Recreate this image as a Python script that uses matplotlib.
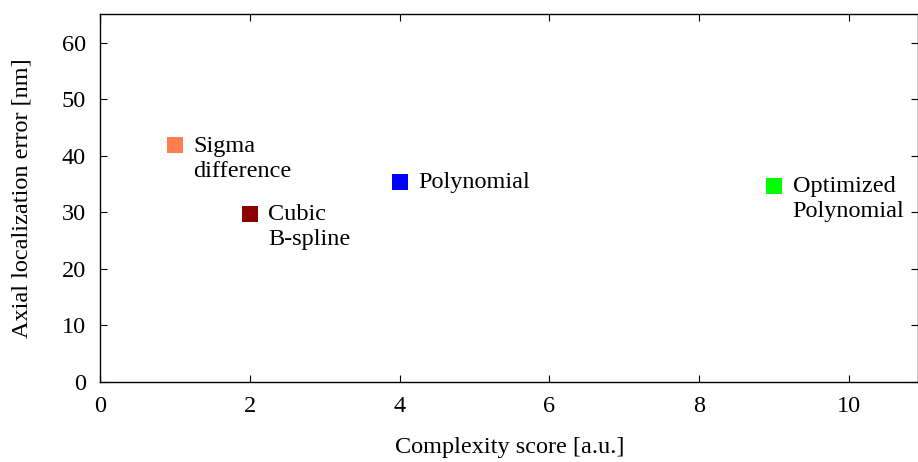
import matplotlib.pyplot as plt

# Datos
methods = ["Sigma\ndifference", "Cubic\nB-spline", "Polynomial", "Optimized\nPolynomial"]
complexity = [1, 2, 4, 9]
axial_error = [41.8, 29.7, 35.4, 34.7]
colors = ["#ff7f50", "#8b0000", "#0000ff", "#00ff00"]

plt.rcParams["font.family"] = "Liberation Serif"
plt.rcParams["font.size"] = 17.5

fig = plt.figure(figsize=(9.18, 4.62), dpi=100)
ax = fig.add_axes([0.1089, 0.1738, 0.8916, 0.7952])

for x, y, c, name in zip(complexity, axial_error, colors, methods):
    ax.plot(x, y, "s", color=c, markersize=11.5, markeredgewidth=0)
    ax.annotate(name, (x, y), xytext=(13.5, 7), textcoords="offset points",
                ha="left", va="top", linespacing=1.25)

ax.set_xlim(0, 10.93)
ax.set_ylim(0, 65)
ax.set_xticks(range(0, 11, 2))
ax.set_yticks(range(0, 61, 10))
ax.tick_params(direction="in", length=5, width=0.8, top=True, right=True, pad=10)
for s in ax.spines.values():
    s.set_linewidth(1.0)

ax.set_xlabel("Complexity score [a.u.]", va="center")
ax.set_ylabel("Axial localization error [nm]", va="center")
ax.xaxis.set_label_coords(0.5, -0.180)
ax.yaxis.set_label_coords(-0.0953, 0.5)

fig.savefig("out.png", dpi=100)
